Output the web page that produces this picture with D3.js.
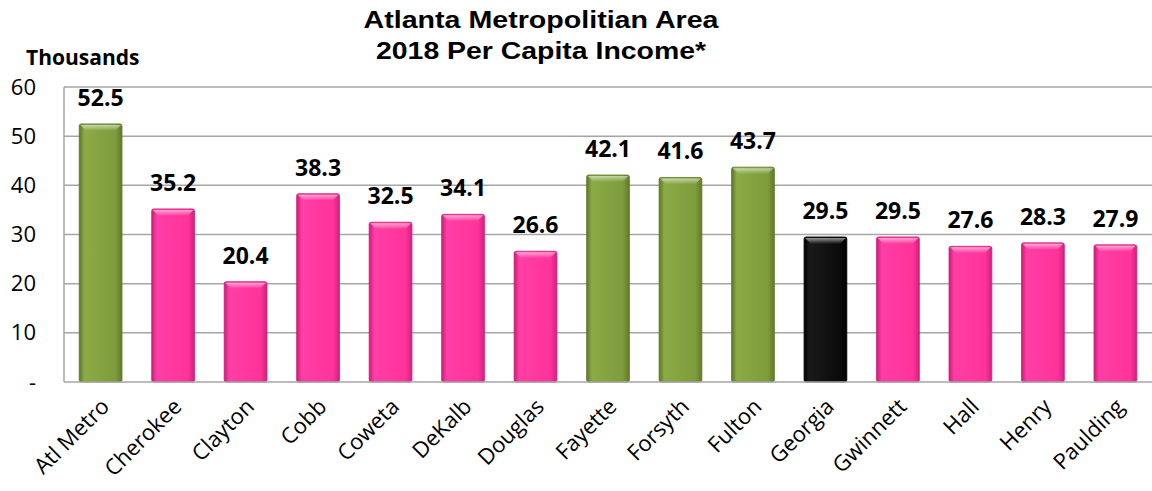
<!DOCTYPE html>
<html>
<head>
<meta charset="utf-8">
<script src="https://cdn.jsdelivr.net/npm/d3@7"></script>
<style>
  body { margin: 0; background: #fff; }
  svg { display: block; }
</style>
</head>
<body>
<div id="chart"></div>
<script>
// data (thousands of dollars)
const categories = ["Atl Metro", "Cherokee", "Clayton", "Cobb", "Coweta", "DeKalb", "Douglas",
  "Fayette", "Forsyth", "Fulton", "Georgia", "Gwinnett", "Hall", "Henry", "Paulding"];
const income = [52.5, 35.2, 20.4, 38.3, 32.5, 34.1, 26.6, 42.1, 41.6, 43.7, 29.5, 29.5, 27.6, 28.3, 27.9];
const group = ["green", "pink", "pink", "pink", "pink", "pink", "pink",
  "green", "green", "green", "black", "pink", "pink", "pink", "pink"];
const yTicks = [0, 10, 20, 30, 40, 50, 60];
const titleLines = ["Atlanta Metropolitian Area", "2018 Per Capita Income*"];

const W = 1152, H = 491;
const m = { top: 87, right: 0, bottom: 109, left: 64 };

let svg = d3.select("#chart").append("svg")
  .attr("width", W)
  .attr("height", H);

// gradients for the bevelled bars
const palette = {
  pink: ["#c81e78", "#ff3ea6", "#ff3399", "#d4207f"],
  green: ["#5c7628", "#8aab45", "#7d9c3b", "#61792b"],
  black: ["#000", "#1a1a1a", "#0a0a0a", "#000"]
};
let defs = svg.append("defs");
for (let k in palette) {
  let c = palette[k];
  let g = defs.append("linearGradient").attr("id", "g-" + k)
    .attr("x1", 0).attr("x2", 1).attr("y1", 0).attr("y2", 0);
  g.append("stop").attr("offset", "0").attr("stop-color", c[0]);
  g.append("stop").attr("offset", "0.12").attr("stop-color", c[1]);
  g.append("stop").attr("offset", "0.85").attr("stop-color", c[2]);
  g.append("stop").attr("offset", "1").attr("stop-color", c[3]);
}
let cap = defs.append("linearGradient").attr("id", "cap")
  .attr("x1", 0).attr("x2", 0).attr("y1", 0).attr("y2", 1);
cap.append("stop").attr("offset", "0").attr("stop-color", "#fff").attr("stop-opacity", 0.55);
cap.append("stop").attr("offset", "1").attr("stop-color", "#fff").attr("stop-opacity", 0);

let x = d3.scaleBand()
  .domain(categories)
  .range([m.left, W - m.right])
  .paddingInner(0.41)
  .paddingOuter(0.21);

let y = d3.scaleLinear()
  .domain([0, 60])
  .range([H - m.bottom, m.top]);

// gridlines
svg.append("g")
  .selectAll("line")
  .data(yTicks.filter(d => d > 0))
  .join("line")
  .attr("x1", m.left).attr("x2", W)
  .attr("y1", d => y(d)).attr("y2", d => y(d))
  .attr("stroke", "#a6a6a6")
  .attr("stroke-width", 1.5);

// left frame
svg.append("line")
  .attr("x1", m.left).attr("x2", m.left)
  .attr("y1", y(60)).attr("y2", y(0))
  .attr("stroke", "#a6a6a6").attr("stroke-width", 1.5);

// y axis labels
let yAxis = d3.axisLeft(y)
  .tickValues(yTicks)
  .tickSize(0)
  .tickPadding(28)
  .tickFormat(d => d === 0 ? "-" : d);
svg.append("g")
  .attr("transform", `translate(${m.left},0)`)
  .call(yAxis)
  .call(g => g.select(".domain").remove())
  .selectAll("text")
  .attr("font-family", "'Open Sans', sans-serif")
  .attr("font-size", 22)
  .attr("fill", "#000");

// bars
let bars = svg.append("g")
  .selectAll("g")
  .data(categories)
  .join("g");

bars.append("rect")
  .attr("x", d => x(d))
  .attr("y", (d, i) => y(income[i]))
  .attr("width", x.bandwidth())
  .attr("height", (d, i) => y(0) - y(income[i]))
  .attr("rx", 2)
  .attr("fill", (d, i) => `url(#g-${group[i]})`)
  .attr("stroke", (d, i) => palette[group[i]][0])
  .attr("stroke-width", 0.8);

bars.append("path")
  .attr("d", (d, i) => {
    let x0 = x(d), x1 = x0 + x.bandwidth(), t = y(income[i]);
    return `M${x0 + 1},${t + 1}L${x1 - 1},${t + 1}L${x1 - 7},${t + 7}L${x0 + 7},${t + 7}Z`;
  })
  .attr("fill", "url(#cap)");

// value labels
bars.append("text")
  .attr("x", d => x(d) + x.bandwidth() / 2)
  .attr("y", (d, i) => y(income[i]) - 18)
  .attr("text-anchor", "middle")
  .attr("font-family", "'Open Sans', sans-serif")
  .attr("font-weight", "bold")
  .attr("font-size", 23)
  .text((d, i) => income[i].toFixed(1));

// bottom axis line
svg.append("line")
  .attr("x1", m.left).attr("x2", W)
  .attr("y1", y(0)).attr("y2", y(0))
  .attr("stroke", "#a6a6a6").attr("stroke-width", 1.5);

// category labels
let xAxis = d3.axisBottom(x).tickSize(0).tickPadding(0);
svg.append("g")
  .attr("transform", `translate(0,${y(0)})`)
  .call(xAxis)
  .call(g => g.select(".domain").remove())
  .selectAll("text")
  .attr("font-family", "'Open Sans', sans-serif")
  .attr("font-size", 22)
  .attr("fill", "#000")
  .attr("text-anchor", "end")
  .attr("dy", 0)
  .attr("transform", "translate(10,26) rotate(-45)");

// title (the original is stretched horizontally)
const titleWidths = [355, 330];
svg.append("text")
  .attr("text-anchor", "middle")
  .attr("font-family", "'Liberation Sans', Arial, sans-serif")
  .attr("font-weight", "bold")
  .attr("font-size", 23)
  .selectAll("tspan")
  .data(titleLines)
  .join("tspan")
  .attr("x", 541)
  .attr("y", (d, i) => 28 + i * 31)
  .attr("textLength", (d, i) => titleWidths[i])
  .attr("lengthAdjust", "spacingAndGlyphs")
  .text(d => d);

svg.append("text")
  .attr("x", 26)
  .attr("y", 65)
  .attr("font-family", "'Open Sans', sans-serif")
  .attr("font-weight", "bold")
  .attr("font-size", 21)
  .text("Thousands");
</script>
</body>
</html>
